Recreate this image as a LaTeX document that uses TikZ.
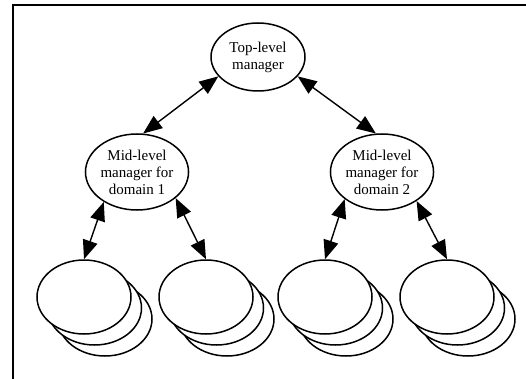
\documentclass[tikz,border=0pt]{standalone}
\usepackage{fontspec}
\setmainfont{Liberation Serif}
\usetikzlibrary{arrows.meta,shapes.geometric}
\begin{document}
\begin{tikzpicture}[x=1pt,y=-1pt,
  mgr/.style={draw,ellipse,line width=1.5pt,inner sep=0pt,align=center,
    font=\fontsize{15pt}{17pt}\selectfont,fill=white},
  leaf/.style={draw,ellipse,line width=1.5pt,inner sep=0pt,fill=white,
    minimum width=94pt,minimum height=74pt},
  link/.style={line width=1.4pt,{Triangle[length=19pt,width=15pt]}-{Triangle[length=19pt,width=15pt]}},
  frame/.style={line width=2pt}]
\useasboundingbox (0,0) rectangle (526,379);
\coordinate (fa) at (12,5);
\coordinate (fb) at (526,5);
\coordinate (fc) at (13,379);
\draw[frame] (fb) -- (fa);
\draw[frame] (13,4) -- (fc);

\node[mgr,minimum width=94pt,minimum height=68pt] (top) at (258,57) {Top-level\\manager};
\node[mgr,minimum width=90pt,minimum height=76pt] (mid1) at (137,172) {Mid-level\\manager for\\domain 1};
\node[mgr,minimum width=90pt,minimum height=76pt] (mid2) at (382,172) {Mid-level\\manager for\\domain 2};

\foreach \n/\x in {b1/84,b2/206,b3/325,b4/447}{
  \node[leaf] (\n c) at (\x+21,297+22) {};
  \node[leaf] (\n b) at (\x+10.5,297+11) {};
  \node[leaf] (\n) at (\x,297) {};
}

\draw[link] (top.206) -- (mid1.81);
\draw[link] (top.334) -- (mid2.99);
\draw[link] (mid1.222) -- (b1.north);
\draw[link] (mid1.326) -- (b2.north);
\draw[link] (mid2.216) -- (b3.north);
\draw[link] (mid2.320) -- (b4.north);
\end{tikzpicture}
\end{document}
